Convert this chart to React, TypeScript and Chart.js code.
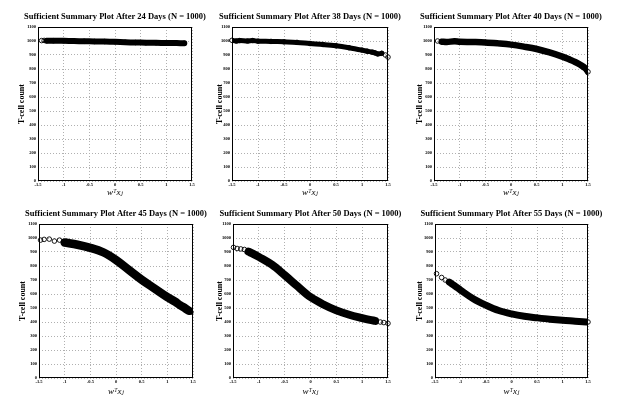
import React, { useEffect, useRef } from "react";
import { Chart, registerables } from "chart.js";
Chart.register(...registerables);

// ---- data ----
const xTickValues = [-1.5, -1, -0.5, 0, 0.5, 1, 1.5];
const yTickValues = [0, 100, 200, 300, 400, 500, 600, 700, 800, 900, 1000, 1100];

const x24 = [-1.43, -1.38, -1.33, -1.2, -1.0, -0.8, -0.6, -0.4, -0.2, 0.0, 0.2, 0.4, 0.6, 0.8, 1.0, 1.2, 1.35];
const y24 = [1003, 1004, 1002, 1002, 1001, 1000, 998, 997, 996, 994, 991, 989, 988, 987, 986, 985, 984];

const x38 = [-1.5, -1.42, -1.35, -1.2, -1.1, -1.0, -0.75, -0.5, -0.25, 0.0, 0.25, 0.5, 0.75, 1.0, 1.1, 1.2, 1.25, 1.3, 1.38, 1.45, 1.5];
const y38 = [1005, 1000, 1003, 1000, 1003, 999, 997, 994, 990, 982, 975, 966, 952, 935, 927, 920, 915, 908, 912, 900, 885];

const x40 = [-1.43, -1.35, -1.25, -1.1, -1.0, -0.75, -0.5, -0.25, 0.0, 0.25, 0.5, 0.75, 1.0, 1.15, 1.25, 1.35, 1.45, 1.5];
const y40 = [1000, 995, 993, 998, 995, 993, 990, 983, 974, 960, 943, 918, 888, 866, 850, 830, 805, 780];

const x45 = [-1.47, -1.4, -1.3, -1.2, -1.1, -1.0, -0.75, -0.5, -0.25, 0.0, 0.25, 0.5, 0.75, 1.0, 1.15, 1.25, 1.35, 1.42, 1.46];
const y45 = [985, 990, 992, 978, 985, 968, 952, 930, 898, 843, 772, 702, 640, 578, 545, 520, 497, 480, 470];

const x50 = [-1.49, -1.42, -1.35, -1.28, -1.2, -1.1, -1.0, -0.75, -0.5, -0.25, 0.0, 0.25, 0.5, 0.75, 1.0, 1.15, 1.25, 1.35, 1.42, 1.5];
const y50 = [933, 925, 922, 918, 902, 885, 865, 810, 735, 655, 578, 525, 483, 452, 428, 415, 408, 400, 396, 390];

const x55 = [-1.47, -1.37, -1.3, -1.22, -1.1, -1.0, -0.75, -0.5, -0.25, 0.0, 0.25, 0.5, 0.75, 1.0, 1.25, 1.4, 1.5];
const y55 = [745, 718, 700, 685, 655, 628, 566, 520, 482, 458, 441, 430, 420, 412, 406, 402, 400];

const dayLabels = [24, 38, 40, 45, 50, 55];

// ---- layout / style ----
const Y_W = 36;
const TOP = 26;
const BOT = 22;
const SERIF = "'Liberation Serif', 'DejaVu Serif', serif";

type PanelSpec = {
  day: number;
  xs: number[];
  ys: number[];
  L: number;
  T: number;
  W: number;
  H: number;
  bandFrom: number;
  bandTo: number;
  lw: number;
  yTitleOff: number;
  xTitleOff: number;
};

const panels: PanelSpec[] = [
  { day: dayLabels[0], xs: x24, ys: y24, L: 38, T: 27, W: 154, H: 154, bandFrom: 2, bandTo: x24.length, lw: 6, yTitleOff: 16.3, xTitleOff: 11.4 },
  { day: dayLabels[1], xs: x38, ys: y38, L: 232, T: 27, W: 156, H: 154, bandFrom: 0, bandTo: x38.length - 2, lw: 5, yTitleOff: 12.3, xTitleOff: 11.4 },
  { day: dayLabels[2], xs: x40, ys: y40, L: 434, T: 27, W: 154, H: 154, bandFrom: 1, bandTo: x40.length, lw: 6.5, yTitleOff: 14.3, xTitleOff: 11.4 },
  { day: dayLabels[3], xs: x45, ys: y45, L: 39, T: 224, W: 154, H: 154, bandFrom: 5, bandTo: x45.length - 1, lw: 8.5, yTitleOff: 15.7, xTitleOff: 13.4 },
  { day: dayLabels[4], xs: x50, ys: y50, L: 233, T: 224, W: 155, H: 154, bandFrom: 4, bandTo: x50.length - 3, lw: 8, yTitleOff: 13.3, xTitleOff: 13.6 },
  { day: dayLabels[5], xs: x55, ys: y55, L: 435, T: 224, W: 153, H: 154, bandFrom: 3, bandTo: x55.length, lw: 7, yTitleOff: 15, xTitleOff: 13.4 },
];

const boxPlugin = {
  id: "boxFrame",
  afterDraw(chart: any) {
    const { ctx, chartArea } = chart;
    const l = Math.round(chartArea.left) + 0.5;
    const t = Math.round(chartArea.top) + 0.5;
    const r = Math.round(chartArea.right) - 0.5;
    const b = Math.round(chartArea.bottom) - 0.5;
    ctx.save();
    ctx.strokeStyle = "#000";
    ctx.lineWidth = 1;
    ctx.setLineDash([]);
    ctx.strokeRect(l, t, r - l, b - t);
    ctx.restore();
  },
};

function Panel({ p }: { p: PanelSpec }) {
  const ref = useRef<HTMLCanvasElement | null>(null);
  const w = p.W + 2 * Y_W;
  const h = p.H + TOP + BOT;

  useEffect(() => {
    const pts = p.xs.map((x, i) => ({ x, y: p.ys[i] }));
    const band = pts.slice(p.bandFrom, p.bandTo);
    const titleLH = 8.5 * 1.2;
    const titlePadTop = TOP - 10 - titleLH / 2;
    const titlePadBottom = TOP - titleLH - titlePadTop;
    const yTitleLH = 8 * 1.2;
    const xTitleLH = 9 * 1.2;
    const chart = new Chart(ref.current as HTMLCanvasElement, {
      type: "scatter",
      data: {
        datasets: [
          {
            data: band,
            showLine: true,
            borderColor: "#000",
            borderWidth: p.lw,
            pointRadius: 0,
            tension: 0.35,
            borderCapStyle: "round",
            borderJoinStyle: "round",
          } as any,
          {
            data: pts,
            showLine: false,
            pointRadius: 2.3,
            pointBorderWidth: 0.9,
            pointBorderColor: "#000",
            pointBackgroundColor: "rgba(0,0,0,0)",
            clip: false,
          } as any,
        ],
      },
      plugins: [boxPlugin],
      options: {
        animation: false,
        responsive: false,
        maintainAspectRatio: false,
        devicePixelRatio: 1,
        layout: { padding: 0 },
        events: [],
        plugins: {
          legend: { display: false },
          tooltip: { enabled: false },
          title: {
            display: true,
            text: `Sufficient Summary Plot After ${p.day} Days (N = 1000)`,
            color: "#000",
            font: { family: SERIF, size: 8.5, weight: "bold", lineHeight: 1.2 },
            padding: { top: titlePadTop, bottom: titlePadBottom },
          },
        },
        scales: {
          x: {
            type: "linear",
            min: -1.5,
            max: 1.5,
            afterBuildTicks: (s: any) => {
              s.ticks = xTickValues.map((v) => ({ value: v }));
            },
            afterFit: (s: any) => {
              s.height = BOT;
            },
            ticks: {
              autoSkip: false,
              maxRotation: 0,
              minRotation: 0,
              padding: 1,
              color: "#000",
              font: { family: SERIF, size: 4.5, weight: "bold" },
              callback: (v: any) => String(v),
            },
            grid: { color: "#b0b0b0", lineWidth: 1, drawTicks: false },
            border: { display: false, dash: [1, 2] },
            title: {
              display: true,
              text: "wᵀxⱼ",
              color: "#000",
              font: { family: SERIF, size: 9, style: "italic", lineHeight: 1.2 },
              padding: { top: 0, bottom: BOT - p.xTitleOff - xTitleLH / 2 },
            },
          },
          y: {
            type: "linear",
            min: 0,
            max: 1100,
            afterBuildTicks: (s: any) => {
              s.ticks = yTickValues.map((v) => ({ value: v }));
            },
            afterFit: (s: any) => {
              s.width = Y_W;
            },
            ticks: {
              autoSkip: false,
              padding: 2,
              color: "#000",
              font: { family: SERIF, size: 4.5, weight: "bold" },
              callback: (v: any) => String(v),
            },
            grid: { color: "#b0b0b0", lineWidth: 1, drawTicks: false },
            border: { display: false, dash: [1, 2] },
            title: {
              display: true,
              text: "T-cell count",
              color: "#000",
              font: { family: SERIF, size: 8, weight: "bold", lineHeight: 1.2 },
              padding: { top: Y_W - p.yTitleOff - yTitleLH / 2, bottom: 0 },
            },
          },
          yR: {
            type: "linear",
            position: "right",
            display: true,
            afterFit: (s: any) => {
              s.width = Y_W;
            },
            ticks: { display: false },
            grid: { display: false },
            border: { display: false },
            title: { display: false },
          },
        },
      } as any,
    });
    return () => chart.destroy();
  }, [p]);

  return (
    <canvas
      ref={ref}
      width={w}
      height={h}
      style={{ position: "absolute", left: p.L - Y_W, top: p.T - TOP, width: w, height: h }}
    />
  );
}

export default function App() {
  return (
    <div
      style={{
        position: "fixed",
        left: 0,
        top: 0,
        width: 618,
        height: 397,
        background: "#fff",
        overflow: "hidden",
      }}
    >
      {panels.map((p) => (
        <Panel key={p.day} p={p} />
      ))}
    </div>
  );
}
